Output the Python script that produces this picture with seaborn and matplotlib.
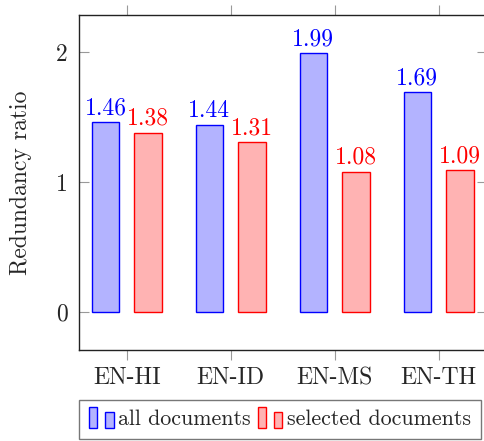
import matplotlib
matplotlib.use("Agg")
import matplotlib.pyplot as plt
from matplotlib.patches import Rectangle
from matplotlib.legend_handler import HandlerBase
import seaborn as sns
import pandas as pd

categories = ["EN-HI", "EN-ID", "EN-MS", "EN-TH"]
all_docs = [1.46, 1.44, 1.99, 1.69]
selected_docs = [1.38, 1.31, 1.08, 1.09]
series_names = ["all documents", "selected documents"]
y_ticks = [0, 1, 2]

fill_colors = ["#b3b3ff", "#ffb3b3"]
edge_colors = ["#0000ff", "#ff0000"]

df = pd.DataFrame({
    "pair": categories * 2,
    "ratio": all_docs + selected_docs,
    "series": [series_names[0]] * len(categories) + [series_names[1]] * len(categories),
})

sns.set_style("white")
plt.rcParams["font.family"] = ["cmr10", "DejaVu Serif"]
plt.rcParams["axes.formatter.use_mathtext"] = True

FS = 17
fig = plt.figure(figsize=(4.84, 4.41), dpi=100)
W, H = 484, 441
left, right, top, bottom = 79, 486.5, 15, 350
ax = fig.add_axes([left / W, 1 - bottom / H, (right - left) / W, (bottom - top) / H])

sns.barplot(data=df, x="pair", y="ratio", hue="series", palette=fill_colors,
            width=0.82, gap=0.36, ax=ax, legend=False, saturation=1)

for cont, ec in zip(ax.containers, edge_colors):
    for p in cont.patches:
        p.set_edgecolor(ec)
        p.set_linewidth(1.0)
    ax.bar_label(cont, fmt="%.2f", color=ec, fontsize=FS, padding=2)

ax.set_xlim(-0.46, 3.46)
ax.set_ylim(-0.29, 2.285)
ax.set_yticks(y_ticks)
ax.set_yticklabels([str(t) for t in y_ticks])
ax.set_xlabel("")
ax.set_ylabel("Redundancy ratio", fontsize=FS, labelpad=17)

ax.tick_params(axis="x", top=True, bottom=True, direction="out", length=7.5,
               width=0.8, color="#999999", labelsize=FS, pad=5)
ax.tick_params(axis="y", left=True, right=True, direction="in", length=7.5,
               width=0.8, color="#999999", labelsize=FS, pad=8)
for s in ["left", "bottom", "top", "right"]:
    ax.spines[s].set_color("#222222")
    ax.spines[s].set_linewidth(1.0)
ax.spines["right"].set_visible(False)


class TwoBarHandler(HandlerBase):
    def __init__(self, fc, ec):
        super().__init__()
        self.fc, self.ec = fc, ec

    def create_artists(self, legend, orig_handle, xdescent, ydescent, width, height, fontsize, trans):
        bw = width * 0.34
        r1 = Rectangle((-xdescent, -ydescent - 0.2 * height), bw, height * 1.4,
                       facecolor=self.fc, edgecolor=self.ec, lw=1.0, transform=trans)
        r2 = Rectangle((-xdescent + width * 0.64, -ydescent - 0.2 * height), bw, height * 1.05,
                       facecolor=self.fc, edgecolor=self.ec, lw=1.0, transform=trans)
        return [r1, r2]


h1 = Rectangle((0, 0), 1, 1)
h2 = Rectangle((0, 0), 1, 1)
leg = fig.legend([h1, h2], series_names, loc="upper left",
                 bbox_to_anchor=(left / W, 1 - 400 / H), ncol=2, frameon=True,
                 fancybox=False, edgecolor="#555555", fontsize=15.8,
                 handler_map={h1: TwoBarHandler(fill_colors[0], edge_colors[0]),
                              h2: TwoBarHandler(fill_colors[1], edge_colors[1])},
                 handlelength=1.15, handletextpad=0.2, columnspacing=0.3,
                 borderpad=0.45, borderaxespad=0)
leg.get_frame().set_linewidth(1.0)

fig.savefig("out.png", dpi=100)
